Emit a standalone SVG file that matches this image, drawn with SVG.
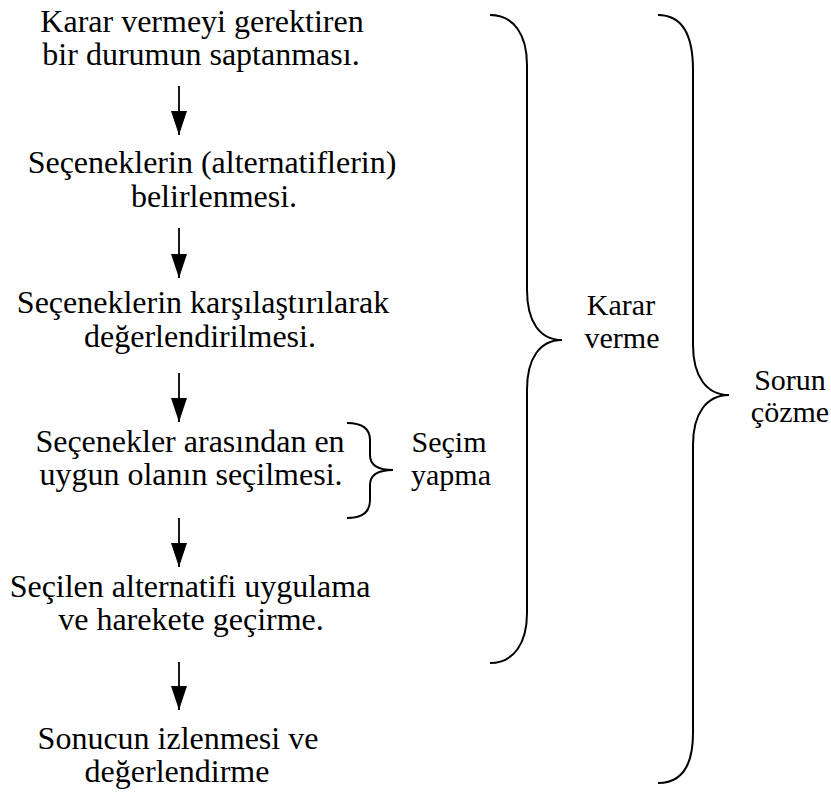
<svg xmlns="http://www.w3.org/2000/svg" width="831" height="794" viewBox="0 0 831 794">
  <style>
    .t { font-family: "Liberation Serif", "Times New Roman", serif; font-size: 32px; fill: #000; text-anchor: middle; }
    .lbl { font-family: "Liberation Serif", "Times New Roman", serif; font-size: 30px; fill: #000; text-anchor: middle; }
    .brace { fill: none; stroke: #000; stroke-width: 2; }
    .shaft { stroke: #000; stroke-width: 1.8; }
  </style>
  <defs>
    <marker id="head" viewBox="0 0 24 16" refX="24" refY="8" markerWidth="24" markerHeight="16" markerUnits="userSpaceOnUse" orient="auto">
      <path d="M0,0 L24,8 L0,16 Z" fill="#000"/>
    </marker>
  </defs>
  <rect width="831" height="794" fill="#fff"/>

  <!-- process steps -->
  <g id="step1">
    <text class="t" x="202" y="32">Karar vermeyi gerektiren</text>
    <text class="t" x="201" y="65">bir durumun saptanması.</text>
  </g>
  <g id="step2">
    <text class="t" x="212" y="173">Seçeneklerin (alternatiflerin)</text>
    <text class="t" x="214" y="207">belirlenmesi.</text>
  </g>
  <g id="step3">
    <text class="t" x="203" y="313">Seçeneklerin karşılaştırılarak</text>
    <text class="t" x="200" y="347">değerlendirilmesi.</text>
  </g>
  <g id="step4">
    <text class="t" x="190" y="452">Seçenekler arasından en</text>
    <text class="t" x="191" y="485">uygun olanın seçilmesi.</text>
  </g>
  <g id="step5">
    <text class="t" x="190" y="597">Seçilen alternatifi uygulama</text>
    <text class="t" x="191" y="630">ve harekete geçirme.</text>
  </g>
  <g id="step6">
    <text class="t" x="178" y="749">Sonucun izlenmesi ve</text>
    <text class="t" x="177" y="782">değerlendirme</text>
  </g>

  <!-- downward arrows between steps -->
  <g id="connectors">
    <line class="shaft" x1="179" y1="86" x2="179" y2="135" marker-end="url(#head)"/>
    <line class="shaft" x1="179" y1="228" x2="179" y2="278" marker-end="url(#head)"/>
    <line class="shaft" x1="179" y1="373" x2="179" y2="422" marker-end="url(#head)"/>
    <line class="shaft" x1="179" y1="518" x2="179" y2="567" marker-end="url(#head)"/>
    <line class="shaft" x1="179" y1="662" x2="179" y2="710" marker-end="url(#head)"/>
  </g>

  <!-- grouping braces -->
  <g id="secim-yapma">
    <path class="brace" d="M347,423 C362,423 370,428 370,440 L370,455 C370,465 378,470 393,470 C378,470 370,475 370,485 L370,500 C370,512 362,518 347,518"/>
    <text class="lbl" x="449" y="452">Seçim</text>
    <text class="lbl" x="451" y="485">yapma</text>
  </g>
  <g id="karar-verme">
    <path class="brace" d="M490,15 C514,15 527,35 527,65 L527,290 C527,322 540,340 562,340 C540,340 527,358 527,390 L527,613 C527,643 514,663 490,663"/>
    <text class="lbl" x="621" y="315">Karar</text>
    <text class="lbl" x="622" y="348">verme</text>
  </g>
  <g id="sorun-cozme">
    <path class="brace" d="M658,15 C682,15 693,35 693,70 L693,345 C693,377 707,395 729,395 C707,395 693,413 693,445 L693,733 C693,765 682,783 658,783"/>
    <text class="lbl" x="790" y="390">Sorun</text>
    <text class="lbl" x="790" y="422">çözme</text>
  </g>
</svg>
